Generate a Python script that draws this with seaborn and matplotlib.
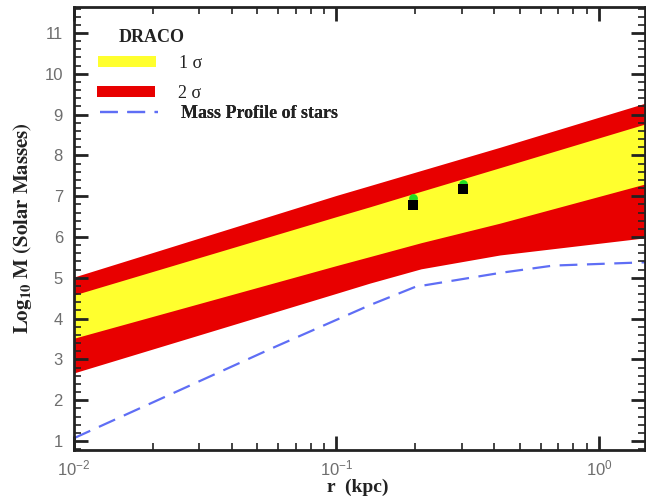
import numpy as np
import pandas as pd
import matplotlib
matplotlib.use("Agg")
import matplotlib.pyplot as plt
from matplotlib.patches import Patch
from matplotlib.lines import Line2D
from matplotlib.ticker import LogLocator, MultipleLocator, LogFormatterSciNotation, NullFormatter
import seaborn as sns

# Confidence bands for the Draco enclosed mass, log10(M / Msun) vs r
r_band = [0.01, 0.1, 0.134, 0.21, 0.42, 1.5]
sigma2_upper = [5.02, 7.02, 7.26, 7.63, 8.20, 9.28]
sigma1_upper = [4.58, 6.50, 6.74, 7.12, 7.70, 8.77]
sigma1_lower = [3.52, 5.30, 5.52, 5.86, 6.34, 7.30]
sigma2_lower = [2.67, 4.62, 4.87, 5.22, 5.56, 5.98]

# Stellar mass profile
r_stars = [0.01, 0.058, 0.134, 0.2, 0.42, 0.67, 1.5]
m_stars = [1.07, 3.30, 4.33, 4.78, 5.12, 5.30, 5.38]

# Mass estimates at two radii
r_est = [0.195, 0.303]
m_est_green = [6.95, 7.30]
m_est_black = [6.78, 7.18]

x_ticks = [0.01, 0.1, 1.0]
y_ticks = [1, 2, 3, 4, 5, 6, 7, 8, 9, 10, 11]

sns.set_style("ticks")
plt.rcParams["font.family"] = ["Liberation Sans", "DejaVu Sans"]
plt.rcParams["mathtext.fontset"] = "stix"
plt.rcParams["axes.axisbelow"] = False

YELLOW = "#ffff2e"
RED = "#e80000"
BLUE = "#5f6ef5"
AXCOL = "#222222"
TICKCOL = "#6e6e6e"

fig = plt.figure(figsize=(6.46, 4.99), dpi=100)
ax = fig.add_axes([0.1146, 0.0982, 0.884, 0.888])
ax.set_axisbelow(False)

ax.fill_between(r_band, sigma2_lower, sigma2_upper, color=RED, lw=0, zorder=1)
ax.fill_between(r_band, sigma1_lower, sigma1_upper, color=YELLOW, lw=0, zorder=1.1)

stars = pd.DataFrame({"r": r_stars, "m": m_stars})
sns.lineplot(data=stars, x="r", y="m", ax=ax, color=BLUE, lw=1.6,
             dashes=False, zorder=1.5)
ax.lines[-1].set_dashes((8.0, 4.3))

est = pd.DataFrame({"r": r_est, "g": m_est_green, "b": m_est_black})
sns.scatterplot(data=est, x="r", y="g", ax=ax, color="#22dd22", marker="o",
                s=40, linewidth=0, zorder=1.6)
sns.scatterplot(data=est, x="r", y="b", ax=ax, color="black", marker="s",
                s=45, linewidth=0, zorder=1.7)

ax.set_xscale("log")
ax.set_xlim(0.01, 1.5)
ax.set_ylim(0.78, 11.64)
ax.set_xticks(x_ticks)
ax.xaxis.set_major_formatter(LogFormatterSciNotation())
ax.xaxis.set_minor_locator(LogLocator(base=10, subs=np.arange(2, 10), numticks=20))
ax.xaxis.set_minor_formatter(NullFormatter())
ax.set_yticks(y_ticks)
ax.yaxis.set_minor_locator(MultipleLocator(0.2))

for s in ax.spines.values():
    s.set_linewidth(2.0)
    s.set_color(AXCOL)
    s.set_visible(True)

for axis in (ax.xaxis, ax.yaxis):
    axis.set_tick_params(which="both", direction="in", color=AXCOL,
                         labelcolor=TICKCOL, labelsize=12,
                         tick1On=True, tick2On=True)
    axis.set_tick_params(which="major", length=10, width=2.0)
    axis.set_tick_params(which="minor", length=5, width=1.2)
ax.tick_params(axis="y", which="major", pad=8)
ax.tick_params(axis="x", which="major", pad=6)
ax.xaxis.set_zorder(5)
ax.yaxis.set_zorder(5)

ax.set_xlabel("r  (kpc)", family="Liberation Serif", fontweight="bold",
              fontsize=14, color="#222222")
ax.xaxis.set_label_coords(0.497, -0.064)
ax.set_ylabel(r"$\mathbf{Log_{10}\ M\ (Solar\ Masses)}$", fontsize=15,
              color="#222222")
ax.yaxis.set_label_coords(-0.07, 0.5)

# Legend: title plus three entries
ax.text(0.0788, 0.932, "DRACO", transform=ax.transAxes, family="Liberation Serif",
        fontweight="bold", fontsize=13, color="#222222", va="center", ha="left")

entries = [
    (Patch(facecolor=YELLOW, edgecolor="none"), "1 σ", "normal", 0.042, 0.872),
    (Patch(facecolor=RED, edgecolor="none"), "2 σ", "normal", 0.0403, 0.805),
    (Line2D([], [], color=BLUE, lw=1.6, dashes=(8.0, 4.3)),
     "Mass Profile of stars", "bold", 0.0455, 0.760),
]
for handle, label, weight, xa, ya in entries:
    leg = ax.legend([handle], [label], loc="center left", bbox_to_anchor=(xa, ya),
                    frameon=False, borderpad=0, borderaxespad=0,
                    handlelength=3.2, handleheight=0.6, handletextpad=1.3,
                    prop={"family": ["Liberation Serif", "DejaVu Serif"],
                          "weight": weight, "size": 13})
    for t in leg.get_texts():
        t.set_color("#222222")
    ax.add_artist(leg)

fig.savefig("out.png", dpi=100)
